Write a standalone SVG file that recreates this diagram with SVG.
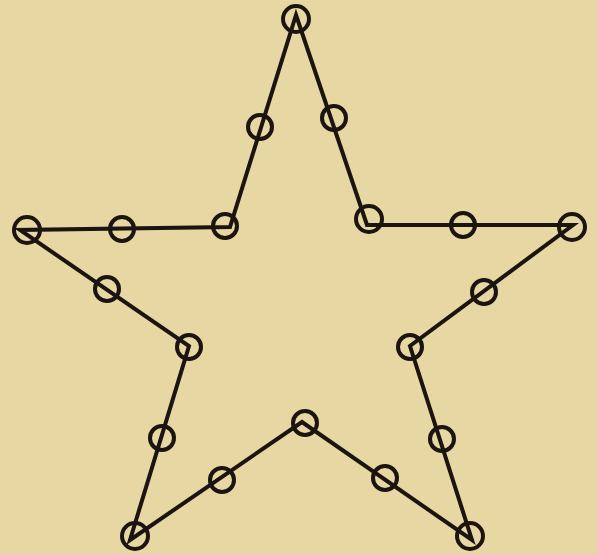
<svg xmlns="http://www.w3.org/2000/svg" width="597" height="554" viewBox="0 0 597 554">
<style>
.bg{fill:#e6d7a3}
.edge{fill:none;stroke:#1c1410;stroke-width:4;stroke-linejoin:miter;stroke-linecap:round}
.ring{fill:none;stroke:#1c1410;stroke-width:4}
</style>
<rect class="bg" x="0" y="0" width="597" height="554"/>
<g id="connectors">
<polygon class="edge" points="296,15 367,225 573,225 410,346 472,540 302,422 130,540 189,346 20,230 230,227"/>
</g>
<g id="n1"><circle class="ring" cx="296" cy="19" r="13"/></g>
<g id="n2"><circle class="ring" cx="334" cy="118" r="12"/></g>
<g id="n3"><circle class="ring" cx="369" cy="219" r="13"/></g>
<g id="n4"><circle class="ring" cx="463" cy="225" r="12"/></g>
<g id="n5"><circle class="ring" cx="572" cy="227" r="13"/></g>
<g id="n6"><circle class="ring" cx="484" cy="292" r="12"/></g>
<g id="n7"><circle class="ring" cx="410" cy="347" r="12"/></g>
<g id="n8"><circle class="ring" cx="442" cy="439" r="12"/></g>
<g id="n9"><circle class="ring" cx="470" cy="536" r="13"/></g>
<g id="n10"><circle class="ring" cx="385" cy="478" r="12"/></g>
<g id="n11"><circle class="ring" cx="305" cy="423" r="12"/></g>
<g id="n12"><circle class="ring" cx="222" cy="480" r="12"/></g>
<g id="n13"><circle class="ring" cx="135" cy="536" r="13"/></g>
<g id="n14"><circle class="ring" cx="162" cy="438" r="12"/></g>
<g id="n15"><circle class="ring" cx="189" cy="347" r="12"/></g>
<g id="n16"><circle class="ring" cx="107" cy="289" r="12"/></g>
<g id="n17"><circle class="ring" cx="27" cy="230" r="13"/></g>
<g id="n18"><circle class="ring" cx="122" cy="229" r="12"/></g>
<g id="n19"><circle class="ring" cx="225" cy="226" r="12"/></g>
<g id="n20"><circle class="ring" cx="260" cy="127" r="12"/></g>
</svg>
